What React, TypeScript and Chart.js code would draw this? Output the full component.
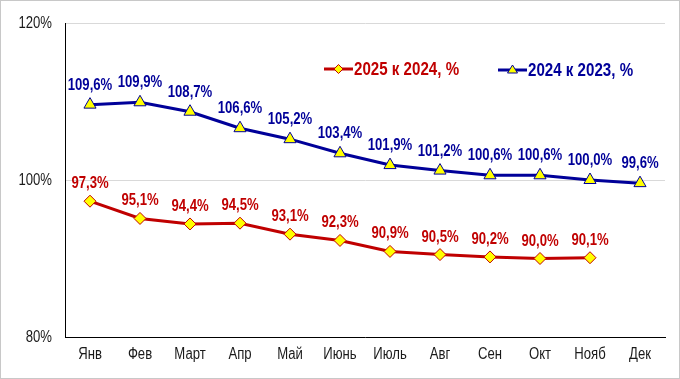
import React, { useEffect, useRef } from "react";
import { Chart, registerables } from "chart.js";

Chart.register(...registerables);

const months = ["Янв", "Фев", "Март", "Апр", "Май", "Июнь", "Июль", "Авг", "Сен", "Окт", "Нояб", "Дек"];
const series2025 = [97.3, 95.1, 94.4, 94.5, 93.1, 92.3, 90.9, 90.5, 90.2, 90.0, 90.1, null];
const series2024 = [109.6, 109.9, 108.7, 106.6, 105.2, 103.4, 101.9, 101.2, 100.6, 100.6, 100.0, 99.6];
const label2025 = "2025 к 2024, %";
const label2024 = "2024 к 2023, %";
const yTicks = [80, 100, 120];

const RED = "#C00000";
const BLUE = "#000099";
const YELLOW = "#FFFF00";
const FONT = "'Liberation Sans', Arial, sans-serif";
const SQUEEZE = 0.82;

const fmt = (v: number) => v.toFixed(1).replace(".", ",") + "%";

function condensed(ctx: any, text: string, x: number, y: number, align: string, baseline: string, sq = SQUEEZE) {
  ctx.save();
  ctx.translate(x, y);
  ctx.scale(sq, 1);
  ctx.textAlign = align;
  ctx.textBaseline = baseline;
  ctx.fillText(text, 0, 0);
  ctx.restore();
}

const extrasPlugin = {
  id: "extras",
  afterDraw(chart: any) {
    const ctx = chart.ctx;
    ctx.save();
    // axis tick labels (positions from the library's scales)
    const xs = chart.scales.x;
    const ys = chart.scales.y;
    ctx.fillStyle = "#1a1a1a";
    ctx.font = "16px " + FONT;
    xs.ticks.forEach((t: any, i: number) => {
      condensed(ctx, String(xs.getLabelForValue(t.value)), xs.getPixelForTick(i), xs.top + 22, "center", "alphabetic");
    });
    ys.ticks.forEach((t: any, i: number) => {
      condensed(ctx, t.value + "%", ys.right - 13, ys.getPixelForTick(i) + 1, "right", "middle");
    });
    // data labels
    ctx.font = "bold 16px " + FONT;
    chart.data.datasets.forEach((ds: any, i: number) => {
      const meta = chart.getDatasetMeta(i);
      ctx.fillStyle = ds.borderColor;
      meta.data.forEach((pt: any, j: number) => {
        const v = ds.data[j];
        if (v === null || v === undefined) return;
        const off = i === 0 ? 13 : 15;
        condensed(ctx, fmt(v), pt.x, pt.y - off, "center", "alphabetic");
      });
    });
    // legend
    const drawItem = (x: number, y: number, color: string, style: string, text: string) => {
      ctx.strokeStyle = color;
      ctx.lineWidth = 3;
      ctx.beginPath();
      ctx.moveTo(x, y);
      ctx.lineTo(x + 29, y);
      ctx.stroke();
      ctx.fillStyle = YELLOW;
      ctx.lineWidth = 1;
      const cx = x + 14.5;
      ctx.beginPath();
      if (style === "diamond") {
        const r = 4.5;
        ctx.moveTo(cx, y - r);
        ctx.lineTo(cx + r, y);
        ctx.lineTo(cx, y + r);
        ctx.lineTo(cx - r, y);
      } else {
        ctx.moveTo(cx, y - 5);
        ctx.lineTo(cx + 5, y + 3);
        ctx.lineTo(cx - 5, y + 3);
      }
      ctx.closePath();
      ctx.fill();
      ctx.stroke();
      ctx.fillStyle = color;
      ctx.font = "bold 18px " + FONT;
      condensed(ctx, text, x + 30, y + 1, "left", "middle", 0.84);
    };
    drawItem(324, 69, RED, "diamond", label2025);
    drawItem(498, 70, BLUE, "triangle", label2024);
    // outer border
    ctx.strokeStyle = "#c8c8c8";
    ctx.lineWidth = 1;
    ctx.strokeRect(0.5, 0.5, chart.width - 1, chart.height - 1);
    ctx.restore();
  },
};

export default function App() {
  const ref = useRef<HTMLCanvasElement>(null);
  useEffect(() => {
    const chart = new Chart(ref.current!, {
      type: "line",
      data: {
        labels: months,
        datasets: [
          {
            label: label2025,
            data: series2025,
            borderColor: RED,
            backgroundColor: YELLOW,
            borderWidth: 3,
            pointStyle: "rectRot",
            pointRadius: 6,
            pointBackgroundColor: YELLOW,
            pointBorderColor: RED,
            pointBorderWidth: 1,
            tension: 0,
          },
          {
            label: label2024,
            data: series2024,
            borderColor: BLUE,
            backgroundColor: YELLOW,
            borderWidth: 3,
            pointStyle: "triangle",
            pointRadius: 7,
            pointBackgroundColor: YELLOW,
            pointBorderColor: BLUE,
            pointBorderWidth: 1,
            tension: 0,
          },
        ],
      },
      options: {
        animation: false,
        responsive: false,
        maintainAspectRatio: false,
        layout: { padding: { top: 23, right: 15, left: 0, bottom: 0 } },
        plugins: { legend: { display: false }, tooltip: { enabled: false } },
        scales: {
          x: {
            offset: true,
            grid: { display: false, drawTicks: false },
            border: { display: true, color: "#000", width: 1 },
            ticks: { display: false, autoSkip: false },
            afterFit: (s: any) => {
              s.height = 42;
            },
          },
          y: {
            min: 80,
            max: 120,
            afterBuildTicks: (s: any) => {
              s.ticks = yTicks.map((v) => ({ value: v }));
            },
            grid: { color: "#d9d9d9", drawTicks: false },
            border: { display: true, color: "#000", width: 1 },
            ticks: { display: false },
            afterFit: (s: any) => {
              s.width = 65;
            },
          },
        },
      },
      plugins: [extrasPlugin],
    });
    return () => chart.destroy();
  }, []);
  return (
    <div style={{ position: "fixed", left: 0, top: 0, width: 680, height: 379, background: "#fff" }}>
      <canvas ref={ref} width={680} height={379} style={{ display: "block" }} />
    </div>
  );
}
